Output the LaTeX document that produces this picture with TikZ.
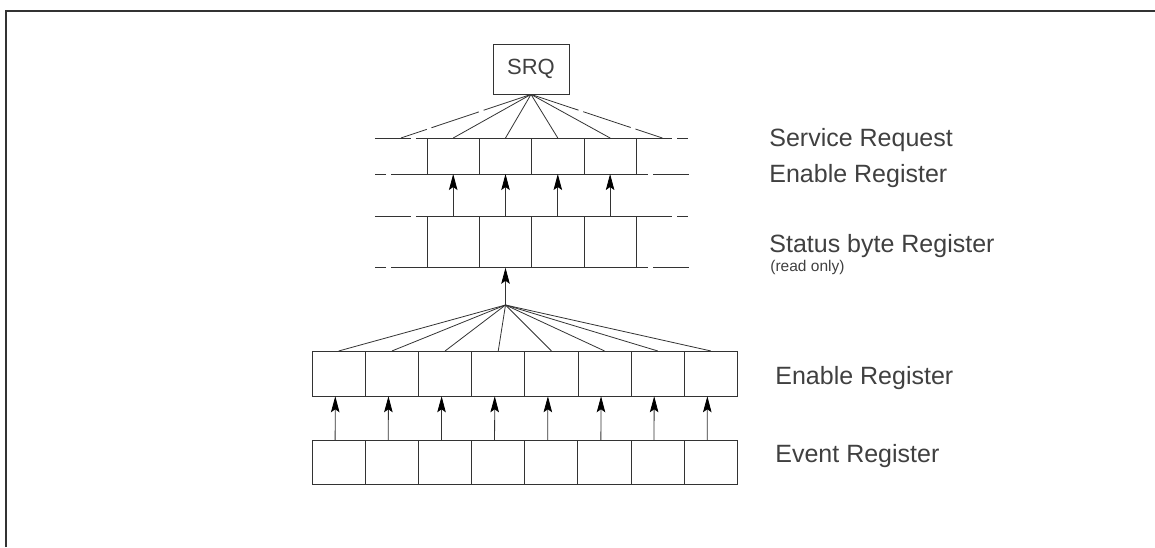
\documentclass[tikz,border=0pt]{standalone}
\usepackage{fontspec}
\setmainfont{Liberation Sans}
\usetikzlibrary{arrows.meta}
\tikzset{
  cell/.style={draw, minimum width=53.15pt, inner sep=0pt, outer sep=0pt},
  topcell/.style={minimum width=52.3pt, inner sep=0pt, outer sep=0pt},
  sig/.style={-{Stealth[length=16pt 0, width=8.5pt 0, inset=3pt, black]}},
  unused/.style={dash pattern=on 36pt off 5pt on 11pt off 5pt},
  lbl/.style={anchor=base west, inner sep=0pt, text=black!75, font=\fontsize{25}{29}\selectfont}
}

\begin{document}
\begin{tikzpicture}[x=1pt, y=-1pt, line width=0.8pt, color=black!80]
\useasboundingbox (0,0) rectangle (1155,547);
\draw[line width=1.3pt] (6,547) -- (6,11) -- (1155,11);

% SRQ box
\node[draw, minimum width=76pt, minimum height=50pt, inner sep=0pt, text=black!75,
      font=\fontsize{22}{26}\selectfont] (srq) at (531,69) {SRQ};

% status byte + service request enable (bits 1..4 used, 0 and 5 dashed)
\foreach \i in {0,...,5} {
  \node[topcell, minimum height=51.7pt] (sb\i) at (400.9+52.3*\i, 241.9) {};
  \node[topcell, minimum height=36pt] (sre\i) at (400.9+52.3*\i, 156) {};
}
\foreach \i in {1,...,4} {
  \draw (sb\i.north west) rectangle (sb\i.south east);
  \draw (sre\i.north west) rectangle (sre\i.south east);
  \draw[sig] (sb\i.north) -- (sre\i.south);
  \draw (srq.south) -- (sre\i.north);
}
\foreach \j in {0,5} {
  \draw[unused] (sb\j.north west) -- (sb\j.north east);
  \draw[unused] (sb\j.south east) -- (sb\j.south west);
  \draw[unused] (sre\j.north west) -- (sre\j.north east);
  \draw[unused] (sre\j.south east) -- (sre\j.south west);
  \draw[dash pattern=on 50pt off 5pt] (srq.south) -- (sre\j.north);
}
\draw[dash pattern=on 21pt off 8pt] (sb5.north west) -- (sb5.south west);
\draw[dash pattern=on 30pt off 5pt] (sre5.north west) -- (sre5.south west);

% event + enable registers
\coordinate (hub) at (505.5,305);
\draw[sig] (hub) -- (sb2.south);
\foreach \i in {0,...,7} {
  \node[cell, minimum height=43.7pt] (ev\i) at (338.6+53.15*\i, 462.2) {};
  \node[cell, minimum height=45.3pt] (en\i) at (338.8+53.15*\i, 373.6) {};
  \draw[sig] ([xshift=-3.5pt]ev\i.north) -- ([xshift=-3.5pt]en\i.south);
  \draw (hub) -- (en\i.north);
}

% labels
\node[lbl] (srelbl) at (769,146) {Service Request};
\node[lbl] (srelbltwo) at (769,182.7) {Enable Register};
\node[lbl] (sblbl) at (769,252.7) {Status byte Register};
\node[lbl, font=\fontsize{15.5}{18}\selectfont] (rolbl) at (770,271) {(read only)};
\node[lbl] (enlbl) at (775,384.3) {Enable Register};
\node[lbl] (evlbl) at (775,462.7) {Event Register};
\end{tikzpicture}
\end{document}
